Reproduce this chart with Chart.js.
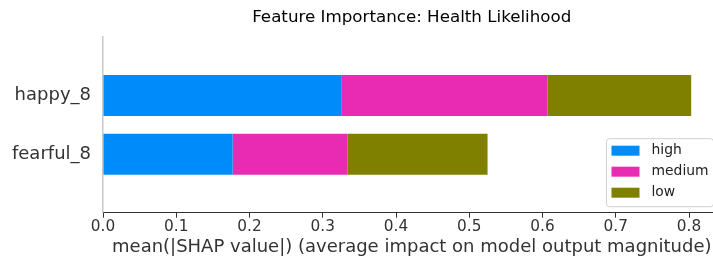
<!DOCTYPE html>
<html>
<head>
<meta charset="utf-8">
<script src="https://cdn.jsdelivr.net/npm/chart.js@4.4.1/dist/chart.umd.min.js"></script>
<style>
  html, body { margin: 0; padding: 0; background: #fff; overflow: hidden; }
  #wrap { width: 740px; height: 260px; }
</style>
</head>
<body>
<div id="wrap"><canvas id="c" width="740" height="260"></canvas></div>
<script>
// ---- data ----
const categories = ["happy_8", "fearful_8"];
const seriesNames = ["high", "medium", "low"];
const highValues = [0.326, 0.177];
const mediumValues = [0.281, 0.157];
const lowValues = [0.196, 0.191];
const xTicks = [0.0, 0.1, 0.2, 0.3, 0.4, 0.5, 0.6, 0.7, 0.8];
const titleText = "Feature Importance: Health Likelihood";
const xLabel = "mean(|SHAP value|) (average impact on model output magnitude)";

const colors = ["#008bfb", "#e92bb4", "#808000"];
const FONT = "'DejaVu Sans', sans-serif";

const seriesValues = [highValues, mediumValues, lowValues];
const n = categories.length;
const pos = categories.map((_, i) => n - 1 - i);

const datasets = seriesNames.map((name, s) => ({
  label: name,
  data: seriesValues[s].map((v, i) => ({ x: v, y: pos[i] })),
  backgroundColor: colors[s],
  borderWidth: 0,
  barPercentage: 0.7,
  categoryPercentage: 1.0
}));

const legendPlugin = {
  id: 'mplLegend',
  afterDraw(chart) {
    const ctx = chart.ctx;
    const ca = chart.chartArea;
    const fs = 13.9;
    const w = 107, h = 68;
    const right = ca.right - 7, bottom = ca.bottom - 6;
    const left = right - w, top = bottom - h;
    ctx.save();
    ctx.beginPath();
    const r = 3;
    ctx.moveTo(left + r, top);
    ctx.lineTo(right - r, top);
    ctx.quadraticCurveTo(right, top, right, top + r);
    ctx.lineTo(right, bottom - r);
    ctx.quadraticCurveTo(right, bottom, right - r, bottom);
    ctx.lineTo(left + r, bottom);
    ctx.quadraticCurveTo(left, bottom, left, bottom - r);
    ctx.lineTo(left, top + r);
    ctx.quadraticCurveTo(left, top, left + r, top);
    ctx.closePath();
    ctx.fillStyle = 'rgba(255,255,255,0.8)';
    ctx.fill();
    ctx.strokeStyle = '#d0d0d0';
    ctx.lineWidth = 1;
    ctx.stroke();
    ctx.font = fs + 'px ' + FONT;
    ctx.textBaseline = 'middle';
    ctx.textAlign = 'left';
    chart.data.datasets.forEach((ds, i) => {
      const cy = top + 12 + i * 21;
      ctx.fillStyle = ds.backgroundColor;
      ctx.fillRect(left + 5, cy - 5, 28, 10);
      ctx.fillStyle = '#222';
      ctx.fillText(ds.label, left + 45, cy);
    });
    ctx.restore();
  }
};

new Chart(document.getElementById('c'), {
  type: 'bar',
  data: { datasets },
  plugins: [legendPlugin],
  options: {
    indexAxis: 'y',
    responsive: false,
    animation: false,
    devicePixelRatio: 1,
    layout: { padding: { left: 0, right: 19.5, top: 0, bottom: 0 } },
    plugins: {
      legend: { display: false },
      tooltip: { enabled: false },
      title: {
        display: true,
        text: titleText,
        fullSize: false,
        color: '#000',
        font: { family: FONT, size: 16.7, weight: 'normal', lineHeight: 1.2 },
        padding: { top: 8, bottom: 9 }
      }
    },
    scales: {
      x: {
        type: 'linear',
        stacked: true,
        min: 0,
        max: 0.843,
        afterBuildTicks(scale) { scale.ticks = xTicks.map(v => ({ value: v })); },
        ticks: {
          color: '#333',
          font: { family: FONT, size: 15.3, lineHeight: 1.0 },
          padding: 2,
          maxRotation: 0,
          callback: v => Number(v).toFixed(1)
        },
        grid: { display: true, drawOnChartArea: false, drawTicks: true, tickLength: 5, color: '#333', tickColor: '#333', tickWidth: 1 },
        border: { display: true, color: '#333', width: 1 },
        title: {
          display: true,
          text: xLabel,
          color: '#333',
          font: { family: FONT, size: 18, lineHeight: 1.0 },
          padding: { top: 1, bottom: 4 }
        }
      },
      y: {
        type: 'linear',
        stacked: true,
        offset: false,
        min: -1,
        max: 2,
        afterBuildTicks(scale) { scale.ticks = pos.map(p => ({ value: p })); },
        afterFit(scale) { scale.width = 103; },
        ticks: {
          color: '#333',
          font: { family: FONT, size: 18 },
          padding: 12,
          callback: v => categories[n - 1 - v]
        },
        grid: { display: false, drawTicks: false, offset: false },
        border: { display: true, color: '#c8c8c8', width: 1.5 }
      }
    }
  }
});
</script>
</body>
</html>
